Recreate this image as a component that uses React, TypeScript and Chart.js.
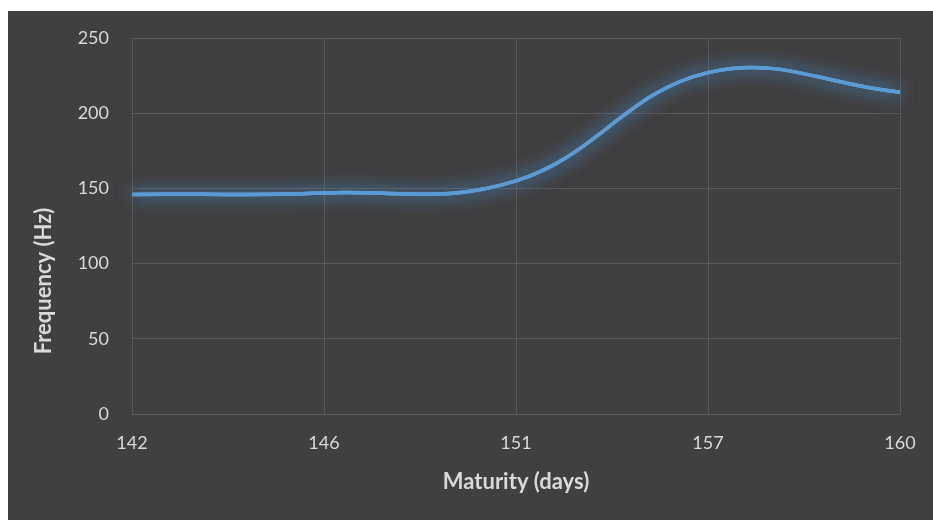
import { useEffect, useRef } from "react";
import { Chart, registerables } from "chart.js";

Chart.register(...registerables);

// Maturity in days (category axis) and measured frequency in Hz
const maturityDays = ["142", "146", "151", "157", "160"];
const frequencyHz = [146, 147, 155, 227, 214];

const yMin = 0;
const yMax = 250;
const yStep = 50;

const xTitle = "Maturity (days)";
const yTitle = "Frequency (Hz)";

const panelColor = "#404040";
const gridColor = "#5a5a5a";
const textColor = "#d9d9d9";
const lineColor = "#5b9bd5";
const fontFamily = "Lato, 'Open Sans', sans-serif";

const panelPlugin = {
  id: "panel",
  beforeDraw(chart: Chart) {
    const { ctx, width, height } = chart;
    ctx.save();
    ctx.fillStyle = panelColor;
    ctx.fillRect(0, 0, width, height);
    ctx.restore();
  },
  afterDraw(chart: Chart) {
    // vertical axis title, drawn rotated on the left
    const { ctx } = chart;
    ctx.save();
    ctx.translate(36, 270);
    ctx.rotate(-Math.PI / 2);
    ctx.fillStyle = textColor;
    ctx.font = `bold 22px ${fontFamily}`;
    ctx.textAlign = "center";
    ctx.textBaseline = "middle";
    ctx.fillText(yTitle, 0, 0);
    ctx.restore();
  },
};

// soft halo around the series line: blurred passes under the real stroke
const glowPlugin = {
  id: "glow",
  beforeDatasetDraw(chart: Chart, args: any) {
    const { ctx, chartArea } = chart;
    const line = args.meta.dataset;
    if (!line) return;
    for (let i = 0; i < 2; i++) {
      ctx.save();
      ctx.shadowColor = "rgba(75, 140, 205, 0.9)";
      ctx.shadowBlur = 18;
      line.draw(ctx, chartArea);
      ctx.restore();
    }
  },
};

export default function App() {
  const canvasRef = useRef<HTMLCanvasElement | null>(null);

  useEffect(() => {
    if (!canvasRef.current) return;
    const chart = new Chart(canvasRef.current, {
      type: "line",
      data: {
        labels: maturityDays,
        datasets: [
          {
            data: frequencyHz,
            borderColor: lineColor,
            borderWidth: 3.5,
            pointRadius: 0,
            tension: 0.4,
            fill: false,
          },
        ],
      },
      options: {
        animation: false,
        responsive: false,
        layout: { padding: { left: 0, top: 27, right: 33, bottom: 0 } },
        plugins: {
          legend: { display: false },
          tooltip: { enabled: false },
        },
        scales: {
          x: {
            offset: false,
            grid: {
              color: gridColor,
              lineWidth: 1,
              drawTicks: true,
              tickLength: 18,
              tickColor: "rgba(0,0,0,0)",
            },
            border: { display: false },
            ticks: {
              color: textColor,
              font: { family: fontFamily, size: 18 },
              padding: 0,
              maxRotation: 0,
            },
            title: {
              display: true,
              text: xTitle,
              color: textColor,
              font: { family: fontFamily, size: 22, weight: "bold" },
              padding: { top: 0, bottom: 25 },
            },
            afterFit(scale: any) {
              scale.height = 106;
            },
          },
          y: {
            min: yMin,
            max: yMax,
            grid: {
              color: gridColor,
              lineWidth: 1,
              drawTicks: true,
              tickLength: 23,
              tickColor: "rgba(0,0,0,0)",
            },
            border: { display: false },
            ticks: {
              stepSize: yStep,
              color: textColor,
              font: { family: fontFamily, size: 18 },
              padding: 0,
            },
            afterFit(scale: any) {
              scale.width = 124;
            },
          },
        },
      },
      plugins: [panelPlugin, glowPlugin],
    });
    return () => chart.destroy();
  }, []);

  return (
    <div style={{ position: "absolute", left: 8, top: 11, width: 925, height: 509 }}>
      <canvas ref={canvasRef} width={925} height={509} style={{ display: "block" }} />
    </div>
  );
}
